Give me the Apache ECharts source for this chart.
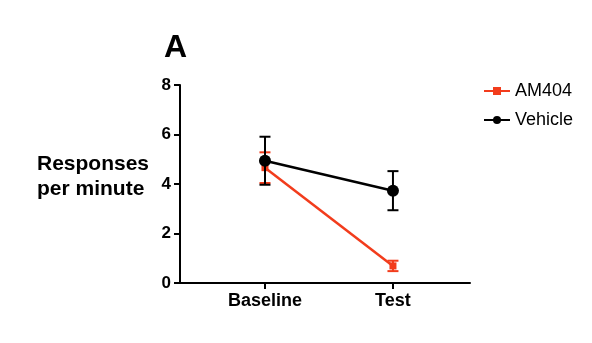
<!DOCTYPE html>
<html>
<head>
<meta charset="utf-8">
<script src="https://cdn.jsdelivr.net/npm/echarts@6/dist/echarts.min.js"></script>
<style>
  html, body { margin: 0; padding: 0; background: #fff; }
  #chart { width: 592px; height: 343px; }
</style>
</head>
<body>
<div id="chart"></div>
<script>
// Sessions and group means ± SEM (responses per minute)
var categories = ['Baseline', 'Test'];
var am404Mean = [4.66, 0.69];
var am404Sem = [0.62, 0.21];
var vehicleMean = [4.94, 3.73];
var vehicleSem = [0.97, 0.79];
var yTicks = [0, 2, 4, 6, 8];

var RED = '#f23c1c';
var BLACK = '#000000';
var FONT = '"Liberation Sans", Arial, sans-serif';

function points(means) {
  return means.map(function (v, i) { return [i, v]; });
}
function errorData(means, sems) {
  return means.map(function (v, i) { return [i, v - sems[i], v + sems[i]]; });
}
function errorBars(color) {
  return function (params, api) {
    var lo = api.coord([api.value(0), api.value(1)]);
    var hi = api.coord([api.value(0), api.value(2)]);
    var half = 5.5;
    var style = { stroke: color, lineWidth: 2, fill: null };
    return {
      type: 'group',
      children: [
        { type: 'line', shape: { x1: lo[0], y1: lo[1], x2: hi[0], y2: hi[1] }, style: style },
        { type: 'line', shape: { x1: lo[0] - half, y1: lo[1], x2: lo[0] + half, y2: lo[1] }, style: style },
        { type: 'line', shape: { x1: hi[0] - half, y1: hi[1], x2: hi[0] + half, y2: hi[1] }, style: style }
      ]
    };
  };
}

var chart = echarts.init(document.getElementById('chart'), null, { renderer: 'canvas' });
chart.setOption({
  animation: false,
  backgroundColor: '#fff',
  title: {
    text: 'A',
    left: 159, top: 27,
    textStyle: { fontFamily: FONT, fontWeight: 'bold', fontSize: 32, color: '#000' }
  },
  legend: {
    orient: 'vertical',
    left: 478, top: 77,
    itemWidth: 26, itemHeight: 10, itemGap: 11,
    textStyle: { fontFamily: FONT, fontSize: 18, color: '#000' },
    data: ['AM404', 'Vehicle']
  },
  graphic: [{
    type: 'text',
    left: 37, top: 152,
    style: {
      text: 'Responses\nper minute',
      font: 'bold 21px ' + FONT,
      lineHeight: 25,
      fill: '#000'
    }
  }],
  grid: { left: 180, top: 85, width: 290, height: 198 },
  xAxis: {
    type: 'value',
    min: -0.664, max: 1.602,
    splitLine: { show: false },
    axisLine: { lineStyle: { color: '#000', width: 2 } },
    axisTick: { show: true, customValues: [0, 1], length: 6, lineStyle: { color: '#000', width: 2 } },
    axisLabel: {
      customValues: [0, 1],
      formatter: function (v) { return categories[Math.round(v)]; },
      fontFamily: FONT, fontWeight: 'bold', fontSize: 18, color: '#000', margin: 9
    }
  },
  yAxis: {
    type: 'value',
    min: 0, max: 8, interval: 2,
    splitLine: { show: false },
    axisLine: { show: true, onZero: false, lineStyle: { color: '#000', width: 2 } },
    axisTick: { show: true, customValues: yTicks, length: 6, lineStyle: { color: '#000', width: 2 } },
    axisLabel: {
      customValues: yTicks,
      fontFamily: FONT, fontWeight: 'bold', fontSize: 17, color: '#000', margin: 9
    }
  },
  series: [
    {
      name: 'AM404',
      type: 'line',
      data: points(am404Mean),
      symbol: 'rect', symbolSize: 7,
      lineStyle: { color: RED, width: 2.5 },
      itemStyle: { color: RED },
      z: 3
    },
    {
      name: 'AM404 SEM',
      type: 'custom',
      renderItem: errorBars(RED),
      data: errorData(am404Mean, am404Sem),
      encode: { x: 0, y: [1, 2] },
      z: 3
    },
    {
      name: 'Vehicle',
      type: 'line',
      data: points(vehicleMean),
      symbol: 'circle', symbolSize: 12,
      lineStyle: { color: BLACK, width: 2.5 },
      itemStyle: { color: BLACK },
      z: 4
    },
    {
      name: 'Vehicle SEM',
      type: 'custom',
      renderItem: errorBars(BLACK),
      data: errorData(vehicleMean, vehicleSem),
      encode: { x: 0, y: [1, 2] },
      z: 4
    }
  ]
});
</script>
</body>
</html>
